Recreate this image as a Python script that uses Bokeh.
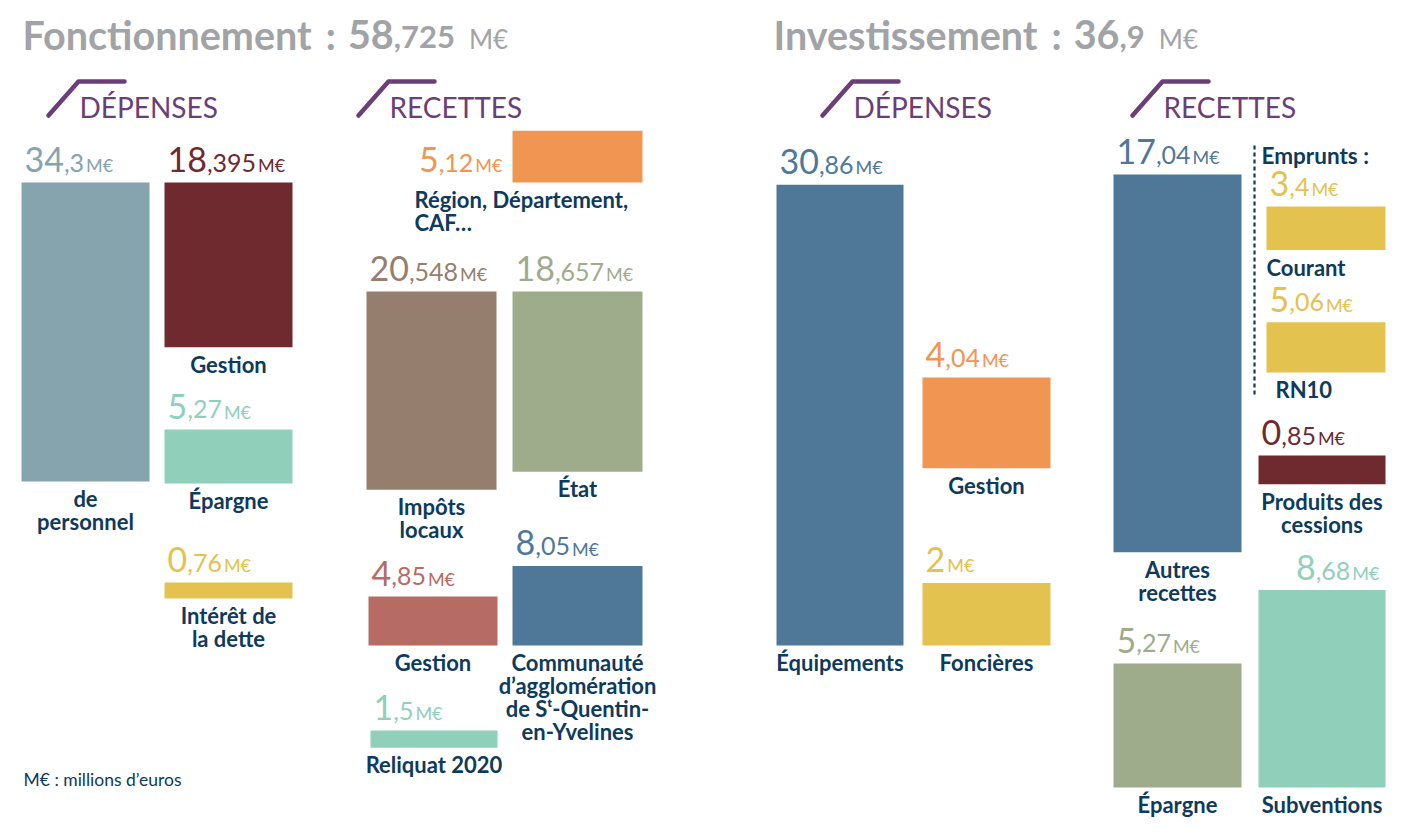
import os, glob, subprocess
from bokeh.plotting import figure
from bokeh.models import ColumnDataSource, Range1d
from bokeh.core.properties import value
from bokeh.embed import file_html
from bokeh.resources import INLINE

# ---------------- data ----------------
fonct_title = "Fonctionnement"
fonct_total = 58.725
invest_title = "Investissement"
invest_total = 36.9
unit = "M€"
note = "M€ : millions d’euros"
dep_header = "DÉPENSES"
rec_header = "RECETTES"
emprunts_title = "Emprunts :"

fd_labels = ["de\npersonnel", "Gestion", "Épargne", "Intérêt de\nla dette"]
fd_values = [34.3, 18.395, 5.27, 0.76]

fr_labels = ["Région, Département,\nCAF…", "Impôts\nlocaux", "État", "Gestion",
             "Communauté\nd’agglomération\nde Sᵗ-Quentin-\nen-Yvelines", "Reliquat 2020"]
fr_values = [5.12, 20.548, 18.657, 4.85, 8.05, 1.5]

id_labels = ["Équipements", "Gestion", "Foncières"]
id_values = [30.86, 4.04, 2]

ir_labels = ["Autres\nrecettes", "Courant", "RN10", "Produits des\ncessions", "Épargne", "Subventions"]
ir_values = [17.04, 3.4, 5.06, 0.85, 5.27, 8.68]

# ---------------- styles / layout ----------------
GRAY = "#a2a3a6"
PURPLE = "#6b3e78"
NAVY = "#0e3a5c"
C_PERS = "#86a4ae"
C_DRED = "#6e2a2f"
C_MINT = "#90d0bb"
C_YEL = "#e3c250"
C_ORG = "#f09552"
C_TAUPE = "#957e6e"
C_SAGE = "#9fac8c"
C_ROSE = "#b66b65"
C_BLUE = "#4f7898"
FONT = "Lato"
BASELINE_FIX = 0.36  # svg text sits this fraction of its size below the requested baseline

# pixels per M€ and base height, per panel
scales = {"A": (8.44, 9.6), "B": (9.5, 3.0), "C": (13.8, 35.0), "D": (21.55, 10.5), "E": (4.0, 30.0)}

# (left, right, anchor, anchor_y, scale, color, value-label mode, category mode)
layout_fd = [
    (21, 149, "top", 182, "A", C_PERS, "above", "center"),
    (164, 292, "top", 182, "A", C_DRED, "above", "center"),
    (164, 292, "bottom", 483, "A", C_MINT, "above", "center"),
    (164, 292, "top", 582, "A", C_YEL, "above", "center"),
]
layout_fr = [
    (512, 642, "bottom", 182, "B", C_ORG, "left", "region"),
    (366, 496, "top", 291, "B", C_TAUPE, "above", "center"),
    (512, 642, "top", 291, "B", C_SAGE, "above", "center"),
    (368, 497, "bottom", 645, "B", C_ROSE, "above", "center"),
    (512, 642, "bottom", 645, "B", C_BLUE, "above", "center"),
    (370, 497, "top", 730, "B", C_MINT, "above", "center"),
]
layout_id = [
    (776, 903, "bottom", 645, "C", C_BLUE, "above", "center"),
    (922, 1050, "top", 377, "C", C_ORG, "above", "center"),
    (922, 1050, "bottom", 645, "C", C_YEL, "above", "center"),
]
layout_ir = [
    (1113, 1241, "top", 174, "D", C_BLUE, "above", "center"),
    (1266, 1385, "top", 206, "E", C_YEL, "above", "left"),
    (1266, 1385, "bottom", 372, "E", C_YEL, "above", "left9"),
    (1258, 1385, "top", 455, "D", C_DRED, "above", "center"),
    (1113, 1241, "bottom", 787, "D", C_SAGE, "above", "center"),
    (1258, 1385, "bottom", 787, "D", C_MINT, "right", "center"),
]

# header icons: (x of slash foot, header text)
headers = [(48, dep_header), (358, rec_header), (822, dep_header), (1132, rec_header)]


# ---------------- text measuring ----------------
_font_cache = {}


def font_path(bold):
    if bold in _font_cache:
        return _font_cache[bold]
    path = None
    style = "Bold" if bold else "Regular"
    try:
        out = subprocess.run(["fc-match", "-f", "%{file}", f"{FONT}:style={style}"],
                             capture_output=True, text=True, timeout=5).stdout.strip()
        if out and os.path.exists(out) and "lato" in out.lower():
            path = out
    except Exception:
        path = None
    if path is None:
        for d in ["/usr/share/fonts", "/usr/local/share/fonts", os.path.expanduser("~/.fonts")]:
            hits = glob.glob(os.path.join(d, "**", f"Lato-{style}.*tf"), recursive=True)
            if hits:
                path = hits[0]
                break
    _font_cache[bold] = path
    return path


def text_width(s, size, bold=False):
    path = font_path(bold)
    if path:
        try:
            from PIL import ImageFont
            f = ImageFont.truetype(path, int(size * 10))
            return f.getlength(s) / 10.0
        except Exception:
            pass
    w = 0
    for ch in s:
        if ch.isdigit():
            w += 0.58
        elif ch in ",.:; ":
            w += 0.25
        elif ch == "M":
            w += 0.88
        elif ch.isupper():
            w += 0.65
        else:
            w += 0.52
    return w * size


def split_num(v):
    s = f"{v:g}".replace(".", ",")
    if "," in s:
        i, d = s.split(",")
        return i, "," + d
    return s, ""


# ---------------- figure ----------------
W, H = 1402, 818
p = figure(width=W, height=H, x_range=Range1d(0, W), y_range=Range1d(H, 0),
           output_backend="svg", toolbar_location=None,
           x_axis_location=None, y_axis_location=None, min_border=0)
p.grid.visible = False
p.outline_line_color = None
p.background_fill_color = "white"
p.border_fill_color = "white"

texts = {}


def add_text(x, y, s, size, style, color, align="left"):
    key = (size, style, align)
    d = texts.setdefault(key, dict(x=[], y=[], text=[], color=[]))
    d["x"].append(x)
    d["y"].append(y - BASELINE_FIX * size)
    d["text"].append(s)
    d["color"].append(color)


def add_pieces(x, y, pieces, color, align="left"):
    total = 0
    ws = []
    for s, size, style, gap in pieces:
        w = text_width(s, size, style == "bold")
        ws.append(w)
        total += w + gap
    cx = x - total if align == "right" else x
    for (s, size, style, gap), w in zip(pieces, ws):
        cx += gap
        if s:
            add_text(cx, y, s, size, style, color)
        cx += w


BIG, MID, SMALL = 34, 25, 18

bars = dict(left=[], right=[], top=[], bottom=[], color=[])
for labels, values, layout in [(fd_labels, fd_values, layout_fd), (fr_labels, fr_values, layout_fr),
                               (id_labels, id_values, layout_id), (ir_labels, ir_values, layout_ir)]:
    for lab, v, (l, r, anchor, ay, sk, col, vmode, cmode) in zip(labels, values, layout):
        k, b0 = scales[sk]
        h = v * k + b0
        if anchor == "top":
            top, bottom = ay, ay + h
        else:
            top, bottom = ay - h, ay
        bars["left"].append(l)
        bars["right"].append(r)
        bars["top"].append(top)
        bars["bottom"].append(bottom)
        bars["color"].append(col)

        ip, dp = split_num(v)
        pieces = [(ip, BIG, "normal", 0), (dp, MID, "normal", 0), (unit, SMALL, "normal", 2)]
        if vmode == "above":
            add_pieces(l + 3, top - 11, pieces, col)
        elif vmode == "left":
            add_pieces(l - 10, bottom - 11, pieces, col, align="right")
        else:
            add_pieces(r - 6, top - 10, pieces, col, align="right")

        lines = lab.split("\n")
        for i, line in enumerate(lines):
            yb = bottom + 25 + i * 23
            if cmode == "center":
                add_text((l + r) / 2, yb, line, 22, "bold", NAVY, "center")
            elif cmode == "region":
                add_text(l - 98, yb, line, 22, "bold", NAVY, "left")
            elif cmode == "left":
                add_text(l, yb, line, 22, "bold", NAVY, "left")
            else:
                add_text(l + 9, yb, line, 22, "bold", NAVY, "left")

p.quad(left="left", right="right", top="top", bottom="bottom", color="color",
       source=ColumnDataSource(bars), line_color=None)

# titles
for tx, title, total in [(22, fonct_title, fonct_total), (773, invest_title, invest_total)]:
    ip, dp = split_num(total)
    add_pieces(tx, 48, [(title, 39.5, "bold", 0), (":", 39.5, "bold", 14), (ip, 39.5, "bold", 12),
                        (dp, 31, "bold", 0), (unit, 26, "normal", 14)], GRAY)

# section headers with slash icons
for hx, txt in headers:
    p.line([hx, hx + 30, hx + 76], [115, 81, 81], line_width=4.5, line_color=PURPLE,
           line_cap="round", line_join="round")
    add_text(hx + 31, 117, txt, 28, "normal", PURPLE)

# emprunts group
p.line([1254, 1254], [145, 397], line_width=2.2, line_color=NAVY, line_dash="4 3")
add_text(1261, 163, emprunts_title, 22.5, "bold", NAVY)

# note
add_text(23, 785, note, 17.5, "normal", NAVY)

for (size, style, align), d in texts.items():
    p.text(x="x", y="y", text="text", text_color="color", source=ColumnDataSource(d),
           text_font=value(FONT), text_font_size=value(f"{size}px"),
           text_font_style=value(style), text_align=value(align),
           text_baseline=value("alphabetic"))

open("out.html", "w").write(file_html(p, INLINE))
